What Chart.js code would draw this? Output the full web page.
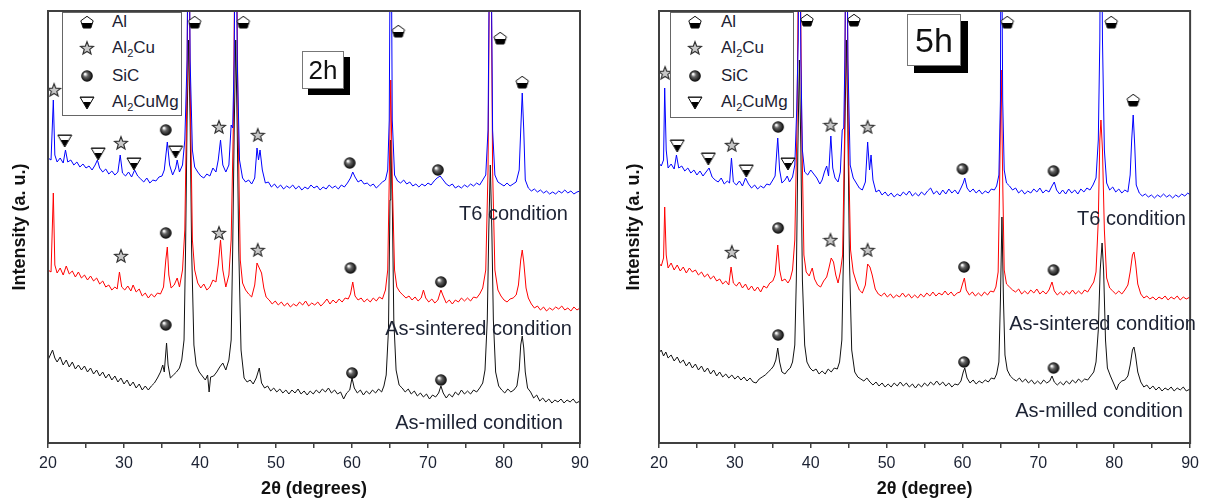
<!DOCTYPE html>
<html>
<head>
<meta charset="utf-8">
<script src="https://cdn.jsdelivr.net/npm/chart.js@4.4.1/dist/chart.umd.min.js"></script>
<style>
  body { margin: 0; background: #fff; font-family: "Liberation Sans", Arial, sans-serif; }
  #wrap { position: relative; width: 1205px; height: 501px; overflow: hidden; }
  canvas { position: absolute; top: 0; }
  .legend { position: absolute; border: 1px solid #666; background: #fff; }
  .legend .row { position: absolute; left: 0; height: 20px; font-size: 17px; color: #1c2233; }
  .legend .row canvas { position: absolute; top: 2px; }
  .legend .row span { position: absolute; top: 0; line-height: 20px; white-space: nowrap; }
  .legend sub { font-size: 11px; vertical-align: -4px; line-height: 0; }
  .tag { position: absolute; border: 1px solid #777; background: #fff; color: #111; text-align: center; }
  .cond { position: absolute; font-size: 20px; line-height: 22px; color: #1c2233; white-space: nowrap; text-align: right; }
</style>
</head>
<body>
<div id="wrap">
  <canvas id="c2h" width="600" height="501" style="left:0"></canvas>
  <canvas id="c5h" width="605" height="501" style="left:600px"></canvas>
</div>
<script>
// x = 2theta (degrees), y = intensity (a.u., offset per condition as plotted)
const t6_2h = [[20,285],[20.4,283],[20.7,343],[20.9,288],[21.2,281],[21.6,285],[22,280],[22.3,293],[22.6,281],[23,283],[23.4,278],[23.8,281],[24.2,276],[24.6,279],[25,275],[25.4,277],[25.8,273],[26.2,278],[26.5,283],[26.8,275],[27.2,271],[27.6,274],[28,269],[28.4,272],[28.8,268],[29.2,271],[29.5,288],[29.8,270],[30.2,267],[30.6,271],[31,266],[31.4,273],[31.8,267],[32.2,264],[32.6,261],[33,265],[33.4,260],[33.8,263],[34.2,262],[34.6,266],[35,267],[35.3,273],[35.7,301],[36,278],[36.4,268],[36.8,275],[37,283],[37.3,271],[37.7,278],[38,303],[38.3,383],[38.5,600],[38.7,383],[39,293],[39.3,276],[39.7,271],[40.1,267],[40.5,265],[40.9,269],[41.3,267],[41.7,275],[42.1,271],[42.4,283],[42.7,303],[43,278],[43.4,271],[43.8,278],[44.1,318],[44.3,315],[44.5,383],[44.7,600],[44.9,383],[45.2,283],[45.6,265],[46,261],[46.4,263],[46.8,259],[47.2,265],[47.5,295],[47.7,283],[47.9,293],[48.2,273],[48.6,260],[49,261],[49.4,256],[49.8,259],[50.2,255],[50.6,258],[51,254],[51.4,257],[51.8,255],[52.2,258],[52.6,254],[53,257],[53.4,253],[53.8,256],[54.2,254],[54.6,258],[55,255],[55.4,257],[55.8,253],[56.2,256],[56.6,254],[57,258],[57.4,255],[57.8,257],[58.2,254],[58.6,258],[59,256],[59.4,260],[59.8,265],[60.1,271],[60.4,266],[60.8,261],[61.2,263],[61.6,259],[62,260],[62.4,257],[62.8,259],[63.2,255],[63.6,258],[64,261],[64.4,263],[64.7,273],[64.9,323],[65.1,600],[65.3,323],[65.6,268],[66,262],[66.4,260],[66.8,263],[67.2,259],[67.6,261],[68,257],[68.4,259],[68.8,256],[69.2,259],[69.6,257],[70,260],[70.4,258],[70.8,262],[71.2,265],[71.6,267],[72,263],[72.4,259],[72.8,257],[73.2,259],[73.6,255],[74,257],[74.4,255],[74.8,258],[75.2,256],[75.6,259],[76,257],[76.4,260],[76.8,258],[77.2,263],[77.6,268],[77.9,313],[78.2,600],[78.5,313],[78.8,268],[79.2,261],[79.6,259],[80,257],[80.4,260],[80.8,257],[81.2,259],[81.6,261],[82,273],[82.2,313],[82.4,350],[82.6,313],[82.8,263],[83.2,255],[83.6,252],[84,254],[84.4,251],[84.8,253],[85.2,250],[85.6,252],[86,249],[86.4,251],[86.8,249],[87.2,252],[87.6,250],[88,253],[88.4,250],[88.8,252],[89.2,249],[89.6,251],[90,252]];
const sint_2h = [[20,173],[20.4,171],[20.7,250],[20.9,178],[21.2,170],[21.6,175],[22,168],[22.4,177],[22.8,169],[23.2,172],[23.6,166],[24,171],[24.4,165],[24.8,168],[25.2,163],[25.6,167],[26,162],[26.4,165],[26.8,159],[27.2,162],[27.6,156],[28,158],[28.4,153],[28.8,156],[29.1,154],[29.4,171],[29.7,156],[30.1,153],[30.5,157],[30.9,152],[31.2,158],[31.6,151],[32,154],[32.4,147],[32.8,150],[33.2,145],[33.6,149],[34,146],[34.4,150],[34.8,149],[35.2,156],[35.5,183],[35.7,196],[35.9,168],[36.2,155],[36.6,158],[37,165],[37.3,156],[37.7,173],[38,213],[38.3,363],[38.5,600],[38.7,363],[39,203],[39.3,173],[39.7,160],[40.1,155],[40.5,159],[40.9,153],[41.3,156],[41.7,163],[42.1,161],[42.4,178],[42.7,203],[43,173],[43.4,156],[43.8,168],[44.1,203],[44.4,323],[44.7,600],[45,323],[45.3,183],[45.6,160],[46,153],[46.4,149],[46.8,146],[47.2,158],[47.5,180],[47.8,175],[48.1,170],[48.4,155],[48.7,146],[49.1,143],[49.5,139],[49.9,142],[50.3,138],[50.7,141],[51.1,137],[51.5,140],[51.9,136],[52.3,139],[52.7,137],[53.1,141],[53.5,138],[53.9,142],[54.3,137],[54.7,140],[55.1,138],[55.5,141],[55.9,137],[56.3,140],[56.7,144],[57.1,139],[57.5,143],[57.9,140],[58.3,144],[58.7,141],[59.1,145],[59.5,144],[59.8,149],[60.1,161],[60.4,147],[60.8,143],[61.2,145],[61.6,141],[62,144],[62.4,141],[62.8,145],[63.2,142],[63.6,146],[64,144],[64.4,153],[64.7,173],[64.9,263],[65.1,363],[65.3,263],[65.6,173],[65.9,156],[66.3,151],[66.7,148],[67.1,145],[67.5,147],[67.9,143],[68.3,146],[68.7,142],[69.1,145],[69.4,153],[69.7,145],[70.1,141],[70.5,144],[70.9,140],[71.3,143],[71.7,153],[72,147],[72.4,140],[72.8,143],[73.2,139],[73.6,143],[74,141],[74.4,145],[74.8,142],[75.2,145],[75.6,142],[76,146],[76.4,145],[76.8,149],[77.2,155],[77.6,173],[77.9,273],[78.2,600],[78.5,273],[78.8,173],[79.2,153],[79.6,147],[80,143],[80.4,141],[80.8,144],[81.2,145],[81.6,148],[81.9,158],[82.2,183],[82.4,193],[82.6,181],[82.9,155],[83.2,145],[83.6,139],[84,135],[84.4,137],[84.8,133],[85.2,136],[85.6,132],[86,135],[86.4,133],[86.8,136],[87.2,134],[87.6,137],[88,133],[88.4,135],[88.8,132],[89.2,136],[89.6,133],[90,135]];
const mill_2h = [[20,83],[20.3,88],[20.6,93],[20.9,85],[21.2,81],[21.6,86],[22,78],[22.4,83],[22.8,76],[23.2,81],[23.6,74],[24,78],[24.4,73],[24.8,77],[25.2,71],[25.6,75],[26,69],[26.4,73],[26.8,67],[27.2,71],[27.6,65],[28,69],[28.4,63],[28.8,67],[29.2,61],[29.6,65],[30,59],[30.4,63],[30.8,57],[31.2,61],[31.6,55],[32,59],[32.4,53],[32.8,57],[33.2,53],[33.6,57],[34,60],[34.4,65],[34.8,71],[35.1,78],[35.3,71],[35.6,100],[35.8,78],[36.1,65],[36.5,68],[36.9,71],[37.3,75],[37.6,83],[37.9,103],[38.1,193],[38.3,323],[38.5,403],[38.7,323],[38.9,193],[39.2,98],[39.5,78],[39.9,71],[40.3,67],[40.7,63],[41,68],[41.2,51],[41.4,66],[41.8,67],[42.2,71],[42.6,76],[43,80],[43.4,73],[43.8,83],[44.1,103],[44.3,193],[44.5,313],[44.7,403],[44.9,313],[45.1,193],[45.4,93],[45.8,65],[46.2,61],[46.6,63],[47,59],[47.4,65],[47.8,75],[48.1,60],[48.5,55],[48.9,57],[49.3,52],[49.7,55],[50.1,51],[50.5,54],[50.9,50],[51.3,53],[51.7,49],[52.1,53],[52.5,50],[52.9,54],[53.3,49],[53.7,52],[54.1,48],[54.5,52],[54.9,49],[55.3,53],[55.7,50],[56.1,54],[56.5,51],[56.9,55],[57.3,50],[57.7,53],[58.1,49],[58.5,51],[58.9,44],[59.3,50],[59.7,53],[60,65],[60.3,55],[60.7,50],[61.1,53],[61.5,48],[61.9,52],[62.3,49],[62.7,53],[63.1,50],[63.5,54],[63.9,51],[64.2,57],[64.5,68],[64.8,113],[65,243],[65.1,303],[65.3,243],[65.5,123],[65.8,73],[66.2,58],[66.6,55],[67,51],[67.4,54],[67.8,49],[68.2,52],[68.6,47],[69,50],[69.4,46],[69.8,49],[70.2,44],[70.6,48],[71,46],[71.4,50],[71.7,57],[72,50],[72.4,45],[72.8,49],[73.2,46],[73.6,51],[74,48],[74.4,53],[74.8,49],[75.2,52],[75.6,49],[76,53],[76.4,51],[76.8,55],[77.2,60],[77.5,73],[77.8,123],[78,213],[78.2,278],[78.4,213],[78.6,123],[78.9,71],[79.3,57],[79.7,53],[80.1,50],[80.5,54],[80.9,51],[81.3,53],[81.7,57],[82,73],[82.2,98],[82.4,107],[82.6,95],[82.8,71],[83.1,55],[83.5,51],[83.9,45],[84.3,48],[84.7,42],[85.1,45],[85.5,41],[85.9,44],[86.3,40],[86.7,43],[87.1,41],[87.5,44],[87.9,40],[88.3,43],[88.7,41],[89.1,44],[89.5,40],[90,42]];

const t6_5h = [[20,280],[20.3,277],[20.6,283],[20.75,355],[20.95,293],[21.2,275],[21.6,279],[22,274],[22.3,288],[22.6,275],[23,277],[23.4,272],[23.8,275],[24.2,270],[24.6,273],[25,268],[25.4,272],[25.8,267],[26.2,271],[26.6,275],[27,266],[27.4,263],[27.8,261],[28.2,265],[28.6,259],[29,262],[29.3,260],[29.55,285],[29.8,261],[30.2,258],[30.6,262],[31,257],[31.4,265],[31.8,259],[32.2,255],[32.6,258],[33,254],[33.4,257],[33.8,255],[34.2,259],[34.6,258],[35,263],[35.3,267],[35.65,305],[35.9,273],[36.2,260],[36.6,263],[36.9,267],[37.2,261],[37.6,266],[37.9,278],[38.15,333],[38.35,403],[38.5,600],[38.7,383],[38.9,293],[39.2,271],[39.6,268],[40,273],[40.4,269],[40.8,265],[41.2,259],[41.5,263],[41.8,271],[42.1,277],[42.35,267],[42.65,307],[42.9,275],[43.2,265],[43.6,261],[43.9,271],[44.15,313],[44.35,315],[44.5,383],[44.7,600],[44.9,383],[45.2,278],[45.6,265],[46,260],[46.4,255],[46.8,253],[47.2,261],[47.5,301],[47.75,273],[47.95,288],[48.2,263],[48.6,251],[49,253],[49.4,248],[49.8,251],[50.2,247],[50.6,250],[51,246],[51.4,249],[51.8,247],[52.2,251],[52.6,248],[53,252],[53.4,247],[53.8,250],[54.2,247],[54.6,251],[55,248],[55.4,252],[55.8,255],[56.2,249],[56.6,252],[57,248],[57.4,253],[57.8,249],[58.2,254],[58.6,250],[59,253],[59.4,249],[59.8,255],[60.1,260],[60.3,265],[60.6,255],[61,251],[61.4,254],[61.8,250],[62.2,253],[62.6,249],[63,252],[63.4,250],[63.8,254],[64.2,253],[64.5,257],[64.8,268],[65,343],[65.1,600],[65.3,343],[65.5,273],[65.8,260],[66.2,257],[66.6,253],[67,255],[67.4,250],[67.8,253],[68.2,249],[68.6,252],[69,250],[69.4,254],[69.8,251],[70.2,255],[70.6,250],[71,253],[71.4,251],[71.8,257],[72.1,261],[72.4,253],[72.8,249],[73.2,253],[73.6,249],[74,254],[74.4,250],[74.8,253],[75.2,249],[75.6,254],[76,251],[76.4,255],[76.8,253],[77.2,258],[77.6,265],[77.9,303],[78.1,403],[78.25,600],[78.45,403],[78.7,293],[79,260],[79.4,253],[79.8,256],[80.2,251],[80.6,254],[81,250],[81.4,253],[81.8,251],[82.1,268],[82.3,303],[82.5,328],[82.7,298],[82.9,258],[83.3,250],[83.7,247],[84.1,249],[84.5,246],[84.9,248],[85.3,245],[85.7,248],[86.1,246],[86.5,249],[86.9,246],[87.3,248],[87.7,245],[88.1,248],[88.5,246],[88.9,249],[89.3,247],[89.7,250],[90,248]];
const sint_5h = [[20,180],[20.3,177],[20.6,185],[20.75,236],[20.95,188],[21.2,175],[21.6,180],[22,173],[22.4,178],[22.8,172],[23.2,176],[23.6,170],[24,175],[24.4,171],[24.8,173],[25.2,168],[25.6,171],[26,166],[26.4,169],[26.8,164],[27.2,167],[27.6,162],[28,164],[28.4,159],[28.8,162],[29.2,158],[29.5,176],[29.8,160],[30.2,157],[30.6,161],[31,155],[31.4,159],[31.8,153],[32.2,157],[32.6,152],[33,156],[33.4,151],[33.8,157],[34.2,155],[34.6,160],[35,162],[35.3,168],[35.65,198],[35.9,173],[36.2,162],[36.6,164],[37,160],[37.3,164],[37.6,173],[37.9,203],[38.2,323],[38.5,600],[38.8,323],[39.1,188],[39.4,171],[39.8,167],[40.2,175],[40.5,164],[40.9,158],[41.3,156],[41.7,162],[42.1,166],[42.4,175],[42.7,185],[43,181],[43.3,168],[43.6,160],[43.9,171],[44.2,188],[44.45,303],[44.7,600],[44.95,303],[45.25,193],[45.6,171],[46,161],[46.4,153],[46.8,150],[47.2,158],[47.5,179],[47.8,176],[48.1,168],[48.5,154],[48.9,149],[49.3,147],[49.7,150],[50.1,146],[50.5,149],[50.9,145],[51.3,148],[51.7,146],[52.1,150],[52.5,146],[52.9,149],[53.3,145],[53.7,148],[54.1,145],[54.5,149],[54.9,146],[55.3,150],[55.7,147],[56.1,151],[56.5,147],[56.9,150],[57.3,148],[57.7,152],[58.1,148],[58.5,151],[58.9,147],[59.3,150],[59.7,151],[60,159],[60.25,165],[60.5,153],[60.9,148],[61.3,151],[61.7,147],[62.1,150],[62.5,147],[62.9,151],[63.3,148],[63.7,152],[64.1,151],[64.4,156],[64.7,171],[64.9,263],[65.1,373],[65.3,263],[65.5,173],[65.8,159],[66.2,156],[66.6,153],[67,151],[67.4,154],[67.8,149],[68.2,152],[68.6,149],[69,153],[69.4,150],[69.8,154],[70.2,149],[70.6,152],[71,149],[71.4,153],[71.8,161],[72.1,152],[72.5,148],[72.9,151],[73.3,148],[73.7,152],[74.1,149],[74.5,153],[74.9,149],[75.3,152],[75.7,149],[76.1,153],[76.5,151],[76.9,156],[77.3,161],[77.6,171],[77.9,223],[78.1,303],[78.25,323],[78.45,293],[78.7,213],[79,165],[79.4,155],[79.8,152],[80.2,149],[80.6,152],[81,149],[81.4,153],[81.8,158],[82.1,171],[82.4,188],[82.6,191],[82.8,181],[83.1,159],[83.5,149],[83.9,145],[84.3,147],[84.7,144],[85.1,146],[85.5,143],[85.9,146],[86.3,144],[86.7,147],[87.1,143],[87.5,146],[87.9,144],[88.3,147],[88.7,143],[89.1,146],[89.5,144],[90,146]];
const mill_5h = [[20,90],[20.3,93],[20.6,87],[20.9,91],[21.2,85],[21.6,88],[22,82],[22.4,86],[22.8,80],[23.2,83],[23.6,77],[24,81],[24.4,75],[24.8,79],[25.2,73],[25.6,77],[26,71],[26.4,75],[26.8,69],[27.2,73],[27.6,67],[28,71],[28.4,66],[28.8,69],[29.2,65],[29.6,68],[30,64],[30.4,67],[30.8,63],[31.2,66],[31.6,62],[32,65],[32.4,61],[32.8,60],[33.2,64],[33.6,66],[34,68],[34.4,71],[34.8,74],[35.1,77],[35.4,83],[35.65,95],[35.9,81],[36.2,71],[36.6,69],[37,73],[37.3,75],[37.6,81],[37.9,98],[38.1,163],[38.3,293],[38.5,383],[38.7,293],[38.9,163],[39.2,98],[39.5,81],[39.9,75],[40.3,72],[40.7,74],[41.1,69],[41.5,72],[41.9,69],[42.3,74],[42.7,71],[43.1,75],[43.5,74],[43.8,81],[44.1,103],[44.3,183],[44.5,313],[44.7,403],[44.9,313],[45.1,183],[45.4,93],[45.8,71],[46.2,66],[46.6,64],[47,62],[47.4,65],[47.8,61],[48.2,58],[48.6,61],[49,57],[49.4,60],[49.8,56],[50.2,59],[50.6,56],[51,60],[51.4,57],[51.8,61],[52.2,57],[52.6,60],[53,56],[53.4,59],[53.8,55],[54.2,59],[54.6,56],[55,60],[55.4,57],[55.8,61],[56.2,58],[56.6,62],[57,58],[57.4,61],[57.8,57],[58.2,60],[58.6,56],[59,59],[59.4,58],[59.8,62],[60.1,71],[60.3,75],[60.6,65],[61,60],[61.4,63],[61.8,59],[62.2,62],[62.6,60],[63,63],[63.4,61],[63.8,65],[64.2,64],[64.5,69],[64.8,81],[65,143],[65.2,226],[65.4,143],[65.6,88],[65.9,73],[66.3,67],[66.7,64],[67.1,62],[67.5,65],[67.9,61],[68.3,64],[68.7,60],[69.1,63],[69.5,59],[69.9,62],[70.3,59],[70.7,63],[71.1,60],[71.5,62],[71.8,67],[72.1,61],[72.5,58],[72.9,61],[73.3,58],[73.7,62],[74.1,59],[74.5,63],[74.9,60],[75.3,64],[75.7,61],[76.1,64],[76.5,63],[76.9,67],[77.3,71],[77.6,81],[77.9,113],[78.15,173],[78.4,200],[78.6,173],[78.85,103],[79.1,75],[79.5,67],[79.9,60],[80.3,53],[80.6,59],[81,62],[81.4,63],[81.8,67],[82.1,78],[82.4,93],[82.6,96],[82.8,88],[83.1,71],[83.5,61],[83.9,56],[84.3,58],[84.7,54],[85.1,57],[85.5,53],[85.9,56],[86.3,52],[86.7,55],[87.1,53],[87.5,56],[87.9,52],[88.3,55],[88.7,53],[89.1,56],[89.5,52],[90,54]];

// phase marker positions [2theta, intensity]
const al_2h = [[39.3,421],[45.7,421],[66.1,412],[79.5,405],[82.4,361]];
const al2cu_2h = [[20.8,353],[29.6,300],[42.5,316],[47.6,308],[29.6,187],[42.5,210],[47.6,193]];
const sic_2h = [[35.5,313],[59.7,280],[71.3,273],[35.5,210],[59.8,175],[71.7,161],[35.5,118],[60,70],[71.7,63]];
const al2cumg_2h = [[22.2,303],[26.6,290],[31.3,280],[36.8,292]];

const al_5h = [[39.5,423],[45.7,423],[65.9,421],[79.6,421],[82.5,343]];
const al2cu_5h = [[20.8,370],[29.6,298],[42.6,318],[47.5,316],[29.6,191],[42.6,203],[47.5,193]];
const sic_5h = [[35.7,316],[60,274],[72,272],[35.7,215],[60.2,176],[72,173],[35.7,108],[60.2,81],[72,75]];
const al2cumg_5h = [[22.4,298],[26.5,285],[31.5,273],[37,280]];

const phaseNames = ["Al", "Al<sub>2</sub>Cu", "SiC", "Al<sub>2</sub>CuMg"];
const conditions = ["T6 condition", "As-sintered condition", "As-milled condition"];
const xTicks = [20, 30, 40, 50, 60, 70, 80, 90];

// --- marker glyphs ---
function makeMarker(kind) {
  const c = document.createElement("canvas");
  c.width = 16; c.height = 16;
  const g = c.getContext("2d");
  g.translate(8, 8);
  g.lineWidth = 1;
  g.strokeStyle = "#111";
  if (kind === "al") {
    const pts = [];
    for (let i = 0; i < 5; i++) {
      const a = -Math.PI / 2 + i * 2 * Math.PI / 5;
      pts.push([Math.cos(a) * 6.5, Math.sin(a) * 6.5 + 0.8]);
    }
    g.beginPath();
    pts.forEach((p, i) => (i ? g.lineTo(p[0], p[1]) : g.moveTo(p[0], p[1])));
    g.closePath();
    g.fillStyle = "#fff";
    g.fill();
    g.save();
    g.clip();
    g.fillStyle = "#000";
    g.fillRect(-8, 1, 16, 8);
    g.restore();
    g.stroke();
  } else if (kind === "star") {
    g.beginPath();
    for (let i = 0; i < 10; i++) {
      const r = i % 2 ? 2.9 : 6.8;
      const a = -Math.PI / 2 + i * Math.PI / 5;
      g.lineTo(Math.cos(a) * r, Math.sin(a) * r + 0.5);
    }
    g.closePath();
    g.fillStyle = "#c8c8c8";
    g.fill();
    g.strokeStyle = "#333";
    g.lineWidth = 1.2;
    g.stroke();
  } else if (kind === "ball") {
    const grad = g.createRadialGradient(-2, -2, 0.5, 0, 0, 6);
    grad.addColorStop(0, "#ffffff");
    grad.addColorStop(0.35, "#666");
    grad.addColorStop(1, "#000");
    g.beginPath();
    g.arc(0, 0, 5.8, 0, Math.PI * 2);
    g.fillStyle = grad;
    g.fill();
  } else {
    g.beginPath();
    g.moveTo(-7, -5); g.lineTo(7, -5); g.lineTo(0, 7); g.closePath();
    g.fillStyle = "#000";
    g.fill();
    g.save();
    g.clip();
    g.fillStyle = "#fff";
    g.fillRect(-8, -4.3, 16, 4.3);
    g.restore();
    g.stroke();
  }
  return c;
}

const pts = (arr) => arr.map((p) => ({ x: p[0], y: p[1] }));

const framePlugin = {
  id: "frame",
  afterDraw(chart) {
    const a = chart.chartArea, ctx = chart.ctx;
    ctx.save();
    ctx.strokeStyle = "#404040";
    ctx.lineWidth = 2;
    ctx.strokeRect(a.left, a.top, a.right - a.left, a.bottom - a.top);
    ctx.restore();
  },
};

function traceSet(data, color, order) {
  return {
    data: pts(data), borderColor: color, borderWidth: 1, pointRadius: 0,
    tension: 0, fill: false, order: order,
  };
}
function markerSet(data, kind) {
  return {
    data: pts(data), showLine: false, pointStyle: makeMarker(kind),
    pointRadius: 7, borderWidth: 0, order: 0,
  };
}

function buildChart(id, series, marks, xTitle, yAxisWidth, padRight, yTitlePad) {
  return new Chart(document.getElementById(id), {
    type: "line",
    data: {
      datasets: [
        markerSet(marks[0], "al"), markerSet(marks[1], "star"),
        markerSet(marks[2], "ball"), markerSet(marks[3], "tri"),
        traceSet(series[0], "#0000ff", 1),
        traceSet(series[1], "#ff0000", 2),
        traceSet(series[2], "#111111", 3),
      ],
    },
    options: {
      responsive: false,
      animation: false,
      devicePixelRatio: 1,
      layout: { padding: { left: 0, right: padRight, top: 11, bottom: 0 } },
      plugins: { legend: { display: false }, tooltip: { enabled: false } },
      scales: {
        x: {
          type: "linear", min: 20, max: 90,
          border: { display: true, color: "#404040", width: 2 },
          grid: { drawOnChartArea: false, drawTicks: true, tickLength: 5, color: "#404040", lineWidth: 1.5 },
          ticks: {
            stepSize: 5, autoSkip: false, maxRotation: 0, padding: 6,
            color: "#1c2233", font: { family: "'Liberation Sans', Arial", size: 16 },
            callback: (v) => (xTicks.includes(v) ? String(v) : ""),
          },
          title: {
            display: true, text: xTitle, color: "#111",
            font: { family: "'Liberation Sans', Arial", size: 18, weight: "bold" },
            padding: { top: 0, bottom: 1 },
          },
          afterFit: (s) => { s.height = 58; },
        },
        y: {
          min: 0, max: 432,
          border: { display: true, color: "#404040", width: 2 },
          grid: { display: false },
          ticks: { display: false },
          title: {
            display: true, text: "Intensity (a. u.)", color: "#111",
            font: { family: "'Liberation Sans', Arial", size: 18, weight: "bold" },
            padding: { top: yTitlePad, bottom: 0 },
          },
          afterFit: (s) => { s.width = yAxisWidth; },
        },
      },
    },
    plugins: [framePlugin],
  });
}

buildChart("c2h", [t6_2h, sint_2h, mill_2h], [al_2h, al2cu_2h, sic_2h, al2cumg_2h], "2\u03b8 (degrees)", 48, 20, 9);
buildChart("c5h", [t6_5h, sint_5h, mill_5h], [al_5h, al2cu_5h, sic_5h, al2cumg_5h], "2\u03b8 (degree)", 59, 14, 23);

// --- overlays: legend boxes, time tags, condition labels ---
const wrap = document.getElementById("wrap");
const kinds = ["al", "star", "ball", "tri"];
const rowY = [21, 47, 75, 101];

function addLegend(left, top, width, height, markX, textX) {
  const box = document.createElement("div");
  box.className = "legend";
  Object.assign(box.style, { left: left + "px", top: top + "px", width: width + "px", height: height + "px" });
  phaseNames.forEach((name, i) => {
    const row = document.createElement("div");
    row.className = "row";
    row.style.top = (rowY[i] - top - 10) + "px";
    const m = makeMarker(kinds[i]);
    m.style.left = (markX - left - 8) + "px";
    row.appendChild(m);
    const s = document.createElement("span");
    s.style.left = (textX - left) + "px";
    s.innerHTML = name;
    row.appendChild(s);
    box.appendChild(row);
  });
  wrap.appendChild(box);
}

function addTag(text, left, top, w, h, size, shadow) {
  const d = document.createElement("div");
  d.className = "tag";
  d.textContent = text;
  Object.assign(d.style, {
    left: left + "px", top: top + "px", width: w + "px", height: h + "px",
    fontSize: size + "px", lineHeight: h + "px",
    boxShadow: shadow + "px " + shadow + "px 0 #000",
  });
  wrap.appendChild(d);
}

function addConditions(rights, ys) {
  conditions.forEach((t, i) => {
    const d = document.createElement("div");
    d.className = "cond";
    d.textContent = t;
    d.style.right = (1205 - rights[i]) + "px";
    d.style.top = (ys[i] - 11) + "px";
    wrap.appendChild(d);
  });
}

addLegend(62, 12, 118, 102, 86, 111);
addLegend(670, 12, 122, 104, 694, 720);
addTag("2h", 302, 51, 40, 36, 26, 6);
addTag("5h", 907, 14, 52, 50, 34, 7);
addConditions([568, 572, 563], [213, 328, 422]);
addConditions([1186, 1196, 1183], [218, 323, 410]);
</script>
</body>
</html>
